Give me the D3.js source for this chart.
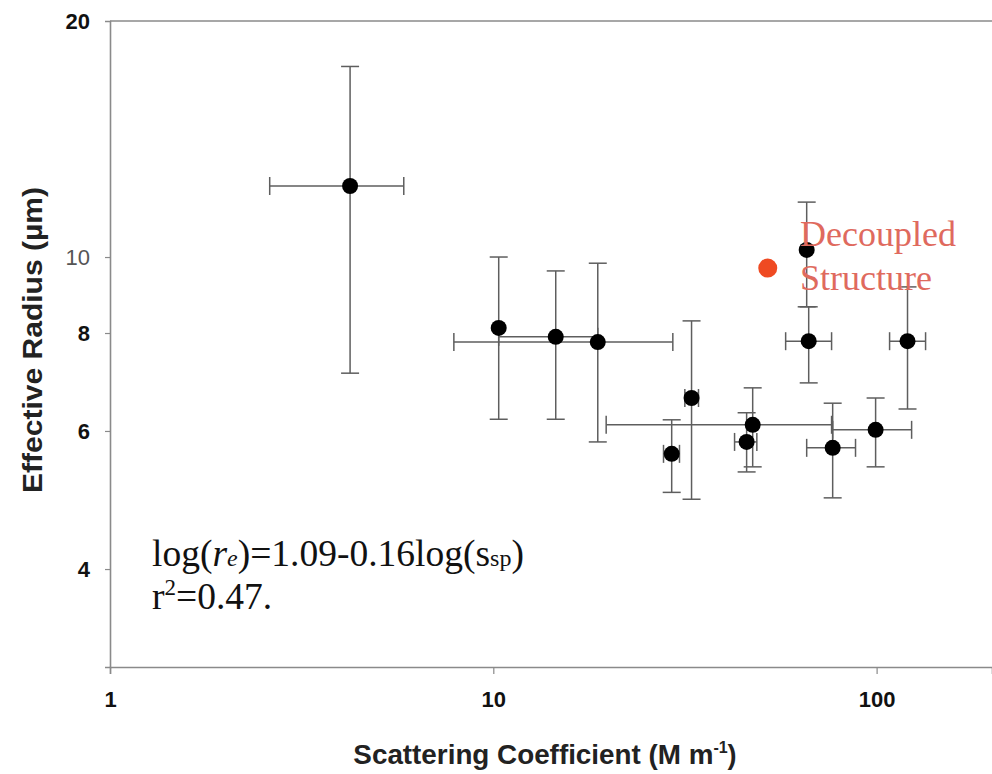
<!DOCTYPE html>
<html><head><meta charset="utf-8">
<script src="https://cdn.jsdelivr.net/npm/d3@7"></script>
<style>body{margin:0;background:#fff}svg{display:block}</style>
</head><body>
<svg id="c" width="992" height="774"></svg>
<script>
// Data: scattering coefficient (M m^-1) vs effective radius (µm)
const xVal   = [4.23, 10.33, 14.55, 18.73, 29.2, 32.9, 45.8, 47.5, 65.7, 66.5, 76.8, 99.4, 120.4];
const yVal   = [12.32, 8.12, 7.91, 7.79, 5.61, 6.61, 5.81, 6.11, 10.21, 7.81, 5.71, 6.02, 7.81];
const yLow   = [7.11, 6.21, 6.21, 5.81, 5.01, 4.91, 5.32, 5.40, 8.64, 6.91, 4.93, 5.40, 6.40];
const yHigh  = [17.5, 10.0, 9.60, 9.82, 6.20, 8.29, 6.33, 6.81, 11.75, 8.64, 6.51, 6.61, 9.16];
const xLow   = [2.61, null, 10.33, 7.89, 27.8, 31.6, 42.6, 19.7, null, 57.9, 65.7, 76.8, 108.1];
const xHigh  = [5.84, null, 18.73, 29.4, 30.6, 34.3, 48.7, 76.3, null, 76.3, 88.1, 123.4, 134.2];
const decoupledX = [52.0];
const decoupledY = [9.68];
const xTicks = [1, 10, 100];
const yTicks = [4, 6, 8, 10, 20];

const svg = d3.select("#c");
const x = d3.scaleLog().domain([1, 200]).range([110, 992]);
const y = d3.scaleLog().domain([3, 20]).range([667, 21]);
const sans = "Liberation Sans, Arial, sans-serif";

const axisColor = "#8a8a8a";
svg.append("line").attr("x1", x(1)).attr("x2", x(200)).attr("y1", y(20)).attr("y2", y(20))
  .attr("stroke", axisColor).attr("stroke-width", 1.6);

const xAxis = d3.axisBottom(x).tickValues(xTicks).tickSize(7).tickFormat(d3.format("d"));
const gx = svg.append("g").attr("transform", `translate(0,${y(3)})`).call(xAxis);
gx.select(".domain").attr("stroke", axisColor).attr("stroke-width", 1.6);
gx.selectAll(".tick line").attr("stroke", axisColor).attr("stroke-width", 1.2);
gx.selectAll(".tick text").attr("font-family", sans)
  .attr("font-weight", "bold").attr("font-size", 22).attr("fill", "#111")
  .attr("dy", null).attr("y", 40);

const yAxis = d3.axisLeft(y).tickValues(yTicks).tickSize(5).tickFormat(d3.format("d"));
const gy = svg.append("g").attr("transform", `translate(${x(1)},0)`).call(yAxis);
gy.select(".domain").attr("stroke", axisColor).attr("stroke-width", 1.6);
gy.selectAll(".tick line").attr("stroke", axisColor).attr("stroke-width", 1.2)
  .attr("display", d => d === 20 ? "none" : null);
gy.selectAll(".tick text").attr("font-family", sans)
  .attr("font-weight", d => d === 10 ? "normal" : "bold").attr("font-size", 22)
  .attr("fill", d => d === 10 ? "#555" : "#111").attr("x", -20);

// error bars
const ebColor = "#5e5e5e";
const cap = 9;
const pts = xVal.map((v, i) => ({x: v, y: yVal[i], yl: yLow[i], yh: yHigh[i], xl: xLow[i], xh: xHigh[i]}));
const eb = svg.append("g").attr("stroke", ebColor).attr("stroke-width", 1.5).attr("fill", "none");
pts.forEach(p => {
  const cx = x(p.x), cy = y(p.y);
  eb.append("line").attr("x1", cx).attr("x2", cx).attr("y1", y(p.yl)).attr("y2", y(p.yh));
  eb.append("line").attr("x1", cx - cap).attr("x2", cx + cap).attr("y1", y(p.yl)).attr("y2", y(p.yl));
  eb.append("line").attr("x1", cx - cap).attr("x2", cx + cap).attr("y1", y(p.yh)).attr("y2", y(p.yh));
  if (p.xl != null) {
    eb.append("line").attr("x1", x(p.xl)).attr("x2", x(p.xh)).attr("y1", cy).attr("y2", cy);
    eb.append("line").attr("x1", x(p.xl)).attr("x2", x(p.xl)).attr("y1", cy - cap).attr("y2", cy + cap);
    eb.append("line").attr("x1", x(p.xh)).attr("x2", x(p.xh)).attr("y1", cy - cap).attr("y2", cy + cap);
  }
});

svg.append("g").selectAll("circle").data(pts).join("circle")
  .attr("cx", d => x(d.x)).attr("cy", d => y(d.y)).attr("r", 8).attr("fill", "#000");

svg.append("g").selectAll("circle").data(decoupledX).join("circle")
  .attr("cx", d => x(d)).attr("cy", (d, i) => y(decoupledY[i])).attr("r", 9.5).attr("fill", "#ef4a22");

// annotation
const serif = "Liberation Serif, Times New Roman, serif";
const ann = svg.append("text").attr("font-family", serif).attr("font-size", 36).attr("fill", "#df6a5e");
ann.append("tspan").attr("x", 800).attr("y", 246).text("Decoupled");
ann.append("tspan").attr("x", 800).attr("y", 290).text("Structure");

const eq = svg.append("text").attr("font-family", serif).attr("font-size", 37.5).attr("fill", "#111")
  .attr("x", 152).attr("y", 566);
eq.append("tspan").text("log(");
eq.append("tspan").attr("font-style", "italic").text("r");
eq.append("tspan").attr("font-style", "italic").attr("font-size", 24).text("e");
eq.append("tspan").text(")=1.09-0.16log(s");
eq.append("tspan").attr("font-size", 24).text("sp");
eq.append("tspan").text(")");
const r2 = svg.append("text").attr("font-family", serif).attr("font-size", 37.5).attr("fill", "#111")
  .attr("x", 152).attr("y", 609);
r2.append("tspan").text("r");
r2.append("tspan").attr("font-size", 23).attr("dy", -14).text("2");
r2.append("tspan").attr("dy", 14).text("=0.47.");

// axis titles
svg.append("text").attr("font-family", sans).attr("font-weight", "bold")
  .attr("font-size", 27).attr("fill", "#222").attr("text-anchor", "middle")
  .attr("textLength", 306).attr("lengthAdjust", "spacingAndGlyphs")
  .attr("transform", "translate(42,340) rotate(-90)").text("Effective Radius (µm)");
const xt = svg.append("text").attr("font-family", sans).attr("font-weight", "bold")
  .attr("font-size", 27).attr("fill", "#222").attr("text-anchor", "middle").attr("x", 545).attr("y", 764);
xt.append("tspan").attr("textLength", 360).attr("lengthAdjust", "spacingAndGlyphs").text("Scattering Coefficient (M m");
xt.append("tspan").attr("font-size", 16).attr("dy", -11).text("-1");
xt.append("tspan").attr("dy", 11).text(")");
</script>
</body></html>
